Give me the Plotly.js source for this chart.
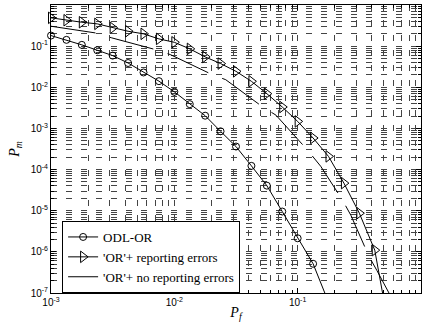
<!DOCTYPE html>
<html>
<head>
<meta charset="utf-8">
<script src="https://cdn.plot.ly/plotly-3.0.1.min.js"></script>
<style>html,body{margin:0;padding:0;background:#fff;}#chart{width:427px;height:329px;}</style>
</head>
<body>
<div id="chart"></div>
<script>
// Series names
const seriesNames = ["ODL-OR", "'OR'+ reporting errors", "'OR'+ no reporting errors"];

// ODL-OR (circles)
const odlX = [0.001, 0.001334, 0.001778, 0.002371, 0.003162, 0.004217, 0.005623, 0.007499,
              0.01, 0.01334, 0.01778, 0.02371, 0.03162, 0.04217, 0.05623, 0.07499, 0.1, 0.1334];
const odlY = [0.1807, 0.1422, 0.1074, 0.0794, 0.0589, 0.0389, 0.0229, 0.0141,
              0.00776, 0.00389, 0.00204, 0.000851, 0.000363, 0.000123, 4.07e-5, 9.55e-6, 2.14e-6, 5.13e-7];
const odlTailX = [0.1334, 0.1778];
const odlTailY = [5.13e-7, 6.0e-8];

// 'OR'+ reporting errors (triangles)
const repX = [0.001, 0.001334, 0.001778, 0.002371, 0.003162, 0.004217, 0.005623, 0.007499,
              0.01, 0.01334, 0.01778, 0.02371, 0.03162, 0.04217, 0.05623, 0.07499, 0.1, 0.1334,
              0.1778, 0.2371, 0.3162, 0.4217];
const repY = [0.4875, 0.4266, 0.381, 0.348, 0.2786, 0.230, 0.199, 0.150,
              0.124, 0.0859, 0.0548, 0.0377, 0.0244, 0.01396, 0.0070, 0.00332, 0.00148, 0.000585,
              0.000209, 4.68e-5, 8.7e-6, 1.10e-6];
const repTailX = [0.4217, 0.5248];
const repTailY = [1.10e-6, 3.0e-8];

// 'OR'+ no reporting errors (line only)
const noRepX = [0.001, 0.00228, 0.00311, 0.00702, 0.00927, 0.0203, 0.0261, 0.0519, 0.0667,
                0.1205, 0.1538, 0.2307, 0.270, 0.380, 0.4385, 0.552, 0.575];
const noRepY = [0.305, 0.210, 0.159, 0.0826, 0.0624, 0.0203, 0.0153, 0.00335, 0.00210,
                0.000295, 0.000120, 1.82e-5, 7.76e-6, 7.59e-7, 3.55e-7, 9.8e-8, 5e-8];

// Tick labels
const xTickVals = [0.001, 0.01, 0.1, 1];
const xTickText = ['10<sup>-3</sup>', '10<sup>-2</sup>', '10<sup>-1</sup>', '10<sup>0</sup>'];
const yTickVals = [1e-7, 1e-6, 1e-5, 1e-4, 1e-3, 1e-2, 1e-1, 1];
const yTickText = ['10<sup>-7</sup>', '10<sup>-6</sup>', '10<sup>-5</sup>', '10<sup>-4</sup>',
                   '10<sup>-3</sup>', '10<sup>-2</sup>', '10<sup>-1</sup>', '10<sup>0</sup>'];
const xTitle = '<i>P</i><sub><i>f</i></sub>';
const yTitle = '<i>P</i><sub><i>m</i></sub>';

// minor tick positions (2..9 within each decade)
function minorVals(decades) {
  const out = [];
  decades.forEach(function (d) { for (let m = 2; m <= 9; m++) out.push(m * d); });
  return out;
}
const xMinor = minorVals(xTickVals.slice(0, -1));
const yMinor = minorVals(yTickVals.slice(0, -1));

const xRangeLog = [-3, 0];
const yRangeLog = [-7, 0];

const gridCol = '#444';
const gridDash = '6px,9px';
const serif = 'Liberation Serif, Times New Roman, serif';

const traces = [
  {x: odlX, y: odlY, name: seriesNames[0], type: 'scatter', mode: 'lines+markers', cliponaxis: false,
   line: {color: '#000', width: 1},
   marker: {symbol: 'circle-open', size: 7, color: '#000', line: {color: '#000', width: 1}}},
  {x: odlTailX, y: odlTailY, type: 'scatter', mode: 'lines', showlegend: false, hoverinfo: 'skip',
   line: {color: '#000', width: 1}},
  {x: repX, y: repY, name: seriesNames[1], type: 'scatter', mode: 'lines+markers', cliponaxis: false,
   line: {color: '#000', width: 1},
   marker: {symbol: 'triangle-right-open', size: 10, color: '#000', line: {color: '#000', width: 1}}},
  {x: repTailX, y: repTailY, type: 'scatter', mode: 'lines', showlegend: false, hoverinfo: 'skip',
   line: {color: '#000', width: 1}},
  {x: noRepX, y: noRepY, name: seriesNames[2], type: 'scatter', mode: 'lines',
   line: {color: '#000', width: 1, dash: '45px,15px'}}
];

function axisCommon(minorTicks) {
  return {
    type: 'log',
    showline: true, linecolor: '#000', linewidth: 1, mirror: 'allticks',
    ticks: 'inside', ticklen: 5, tickcolor: '#000', tickwidth: 1,
    tickmode: 'array',
    tickfont: {family: 'Liberation Sans, Arial, sans-serif', size: 10, color: '#000'},
    showgrid: true, gridcolor: gridCol, gridwidth: 1, griddash: gridDash,
    zeroline: false,
    minor: {tickmode: 'array', tickvals: minorTicks, ticks: 'inside', ticklen: 3, tickcolor: '#000', tickwidth: 1,
            showgrid: true, gridcolor: gridCol, gridwidth: 1, griddash: gridDash}
  };
}

const layout = {
  width: 427, height: 329,
  margin: {l: 51, r: 6, t: 5, b: 36},
  paper_bgcolor: '#fff', plot_bgcolor: '#fff',
  showlegend: true,
  xaxis: Object.assign(axisCommon(xMinor), {
    range: xRangeLog, tickvals: xTickVals, ticktext: xTickText,
    title: {text: xTitle, font: {family: serif, size: 14, color: '#000'}, standoff: 0}
  }),
  yaxis: Object.assign(axisCommon(yMinor), {
    range: yRangeLog, tickvals: yTickVals, ticktext: yTickText
  }),
  annotations: [{
    text: yTitle, xref: 'paper', yref: 'paper', x: -0.098, y: 0.5,
    xanchor: 'center', yanchor: 'middle', textangle: -90, showarrow: false,
    font: {family: serif, size: 14, color: '#000'}
  }],
  legend: {
    x: 0.03, y: 0.0, xanchor: 'left', yanchor: 'bottom',
    bgcolor: '#fff', bordercolor: '#000', borderwidth: 1,
    font: {family: serif, size: 13, color: '#000'},
    tracegroupgap: 0, itemwidth: 30
  }
};

Plotly.newPlot('chart', traces, layout, {displayModeBar: false, staticPlot: true});
</script>
</body>
</html>
